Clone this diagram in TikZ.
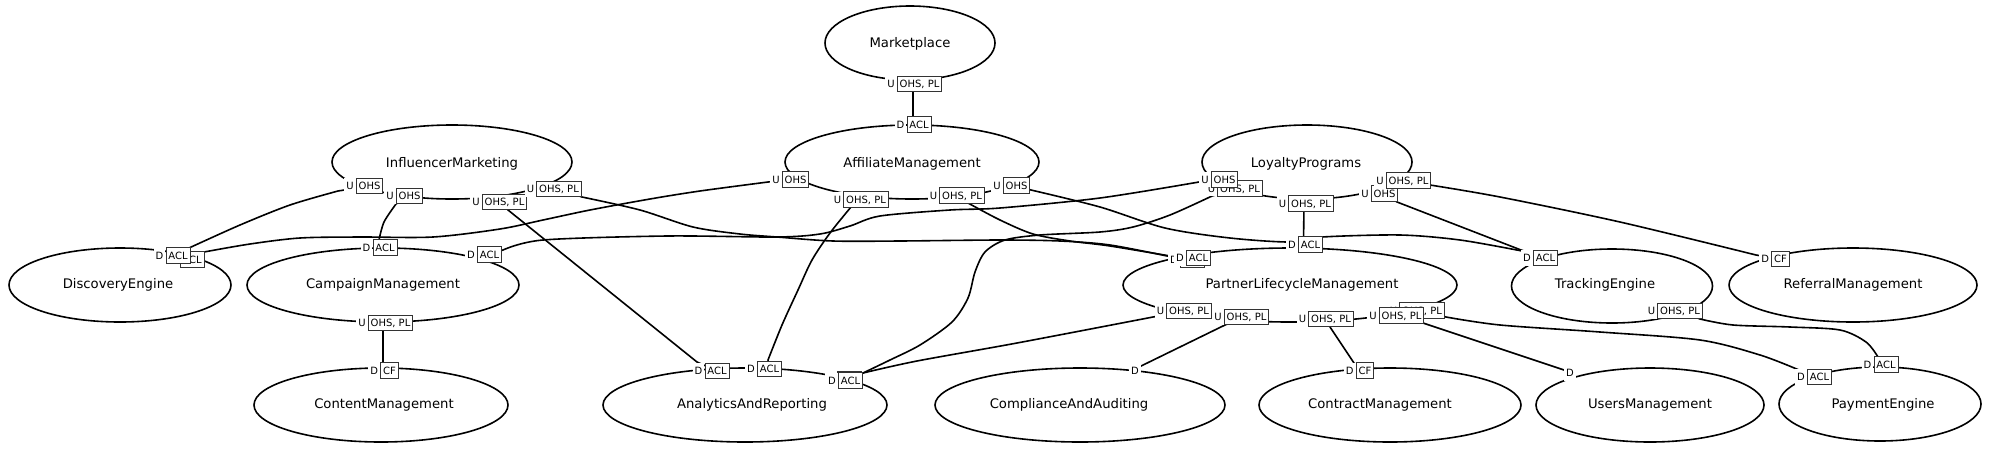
\documentclass[tikz,border=0pt]{standalone}
\usepackage{fontspec}
\setmainfont{DejaVu Sans}
\usetikzlibrary{shapes.geometric}
\pgfdeclarelayer{background}
\pgfsetlayers{background,main}
\newcommand{\ulab}[5]{%
  \node[lbox] (#1) at (#2,#3) {#5};
  \node[lltr, anchor=east] (#1L) at (#1.west) {#4};
}
\begin{document}
\begin{tikzpicture}[x=1pt,y=-1pt,
  ctx/.style={ellipse, draw, line width=1.6pt, inner sep=0pt, minimum height=74pt},
  ctxt/.style={anchor=base, inner sep=0pt, font=\fontsize{13.2}{15}\selectfont},
  lbox/.style={draw=black!80, line width=0.9pt, fill=white, inner xsep=2.4pt, inner ysep=0pt,
    minimum height=15.5pt, text height=7.3pt, text depth=0pt, font=\fontsize{10}{11}\selectfont},
  lltr/.style={fill=white, inner xsep=2pt, inner ysep=0pt, minimum height=15.5pt,
    text height=7.3pt, text depth=0pt, font=\fontsize{10}{11}\selectfont},
  conn/.style={line width=1.6pt, line join=round},
]
\useasboundingbox (0,0) rectangle (2000,448);

% ---------------- labels (upstream / downstream ends) ----------------
\ulab{mkU}{919.5}{84}{U}{OHS, PL}
\ulab{amDt}{919}{124.5}{D}{ACL}

\ulab{imUb}{409.5}{196}{U}{OHS}
\ulab{imUa}{369.5}{186}{U}{OHS}
\ulab{imUc}{504.5}{202}{U}{OHS, PL}
\ulab{imUd}{559}{189}{U}{OHS, PL}

\ulab{amUa}{795.5}{179.5}{U}{OHS}
\ulab{amUb}{866}{199.5}{U}{OHS, PL}
\ulab{amUc}{962}{195.5}{U}{OHS, PL}
\ulab{amUd}{1016.5}{185.5}{U}{OHS}

\ulab{lpUb}{1240}{188.5}{U}{OHS, PL}
\ulab{lpUa}{1224.5}{179.5}{U}{OHS}
\ulab{lpUc}{1311}{203.5}{U}{OHS, PL}
\ulab{lpUd}{1384.5}{193.5}{U}{OHS}
\ulab{lpUe}{1408.5}{180.5}{U}{OHS, PL}

\ulab{plmDb}{1192.5}{260}{D}{ACL}
\ulab{plmDa}{1198.5}{258}{D}{ACL}
\ulab{plmDt}{1310.5}{244.5}{D}{ACL}
\ulab{plmUa}{1189}{311}{U}{OHS, PL}
\ulab{plmUb}{1246.5}{317}{U}{OHS, PL}
\ulab{plmUc}{1331}{319}{U}{OHS, PL}
\ulab{plmUe}{1422}{310.5}{U}{OHS, PL}
\ulab{plmUd}{1401.5}{315.5}{U}{OHS, PL}

\ulab{cmDt}{385}{247.5}{D}{ACL}
\ulab{cmDr}{489.5}{254.5}{D}{ACL}
\ulab{cmU}{390.5}{323}{U}{OHS, PL}

\ulab{deDb}{192}{259.5}{D}{ACL}
\ulab{deDa}{178}{255.5}{D}{ACL}

\ulab{coD}{389.5}{370.5}{D}{CF}

\ulab{arDa}{717}{371}{D}{ACL}
\ulab{arDb}{769.5}{369}{D}{ACL}
\ulab{arDd}{849.5}{379.5}{D}{ACL}
\ulab{arDc}{850.5}{380.5}{D}{ACL}

\node[lltr] (caD) at (1135,371) {D};
\ulab{ctD}{1365}{370.5}{D}{CF}
\node[lltr] (umD) at (1570,373) {D};

\ulab{peDa}{1819.5}{377}{D}{ACL}
\ulab{peDb}{1886}{364.5}{D}{ACL}

\ulab{teDb}{1545.5}{258}{D}{ACL}
\ulab{teDa}{1545.5}{258}{D}{ACL}
\ulab{teU}{1680}{311}{U}{OHS, PL}
\ulab{rmD}{1780.5}{259}{D}{CF}

\begin{pgfonlayer}{background}
% ---------------- bounded contexts ----------------
\node[ctx, minimum width=170pt] (mkt) at (910,43) {};
\node[ctx, minimum width=240pt] (im)  at (452,162) {};
\node[ctx, minimum width=254pt] (am)  at (912,162) {};
\node[ctx, minimum width=210pt] (lp)  at (1307,162) {};
\node[ctx, minimum width=222pt] (de)  at (120,285) {};
\node[ctx, minimum width=272pt] (cm)  at (383,285) {};
\node[ctx, minimum width=334pt] (plm) at (1290,285) {};
\node[ctx, minimum width=201pt] (te)  at (1612,286) {};
\node[ctx, minimum width=248pt] (rm)  at (1853,285) {};
\node[ctx, minimum width=254pt] (co)  at (381,405) {};
\node[ctx, minimum width=284pt] (ar)  at (745,405) {};
\node[ctx, minimum width=290pt] (ca)  at (1080,405) {};
\node[ctx, minimum width=262pt] (ct)  at (1390,405) {};
\node[ctx, minimum width=228pt] (um)  at (1650,405) {};
\node[ctx, minimum width=202pt] (pe)  at (1880,404) {};

\node[ctxt] (mktT) at (910,47) {Marketplace};
\node[ctxt] (imT)  at (452,167) {InfluencerMarketing};
\node[ctxt] (amT)  at (912,167) {AffiliateManagement};
\node[ctxt] (lpT)  at (1306,167) {LoyaltyPrograms};
\node[ctxt] (deT)  at (118,288) {DiscoveryEngine};
\node[ctxt] (cmT)  at (383,288) {CampaignManagement};
\node[ctxt] (plmT) at (1302,288) {PartnerLifecycleManagement};
\node[ctxt] (teT)  at (1605,288) {TrackingEngine};
\node[ctxt] (rmT)  at (1853,288) {ReferralManagement};
\node[ctxt] (coT)  at (384,408) {ContentManagement};
\node[ctxt] (arT)  at (752,408) {AnalyticsAndReporting};
\node[ctxt] (caT)  at (1069,408) {ComplianceAndAuditing};
\node[ctxt] (ctT)  at (1380,408) {ContractManagement};
\node[ctxt] (umT)  at (1650,408) {UsersManagement};
\node[ctxt] (peT)  at (1883,408) {PaymentEngine};

% ---------------- relationships ----------------
\draw[conn] ([xshift=-6.5pt]mkU.center) -- ([xshift=-6pt]amDt.center);
\draw[conn] (imUa.center) -- plot[smooth] coordinates {(338,191) (290,205) (240,225) (189,248)} -- (deDa.center);
\draw[conn] (imUb.center) -- plot[smooth] coordinates {(396,204) (384,222) (379,240)} -- (cmDt.center);
\draw[conn] (imUc.center) -- (508,210) -- (697,362) -- (arDa.center);
\draw[conn] (imUd.center) -- plot[smooth] coordinates {(582,197) (640,210) (693,227) (740,234) (777,237) (833,241) (900,241) (1000,240) (1060,241) (1110,245) (1172,257)} -- (plmDb.center);
\draw[conn] (amUa.center) -- plot[smooth] coordinates {(768,182) (700,191) (650,199) (590,210) (543,220) (500,229) (433,237) (360,237) (300,238) (250,244) (204,252)} -- (deDb.center);
\draw[conn] (amUb.center) -- plot[smooth] coordinates {(851,207) (830,233) (812,260) (798,290) (782,325) (768,360)} -- (arDb.center);
\draw[conn] (amUc.center) -- plot[smooth] coordinates {(968,203) (1000,220) (1033,234) (1070,241) (1110,246) (1176,257)} -- (plmDa.center);
\draw[conn] (amUd.center) -- plot[smooth] coordinates {(1031,190) (1100,207) (1165,228) (1230,238) (1290,242) (1322,237) (1400,235) (1460,240) (1522,251)} -- (teDa.center);
\draw[conn] (lpUa.center) -- plot[smooth] coordinates {(1199,182) (1100,198) (1000,208) (950,210) (880,216) (850,226) (820,234) (777,237) (667,236) (543,240) (503,250)} -- (cmDr.center);
\draw[conn] (lpUb.center) -- plot[smooth] coordinates {(1212,196) (1170,215) (1133,227) (1100,232) (1040,235) (1005,240) (985,252) (975,272) (968,298) (952,322) (920,345) (890,360) (863,373)} -- (arDc.center);
\draw[conn] ([xshift=-7pt]lpUc.center) -- ([xshift=-7pt]plmDt.center);
\draw[conn] (lpUd.center) -- (1397,202) -- (1521,250) -- (teDb.center);
\draw[conn] (lpUe.center) -- plot[smooth] coordinates {(1430,185) (1500,197) (1620,222) (1756,255)} -- (rmD.center);
\draw[conn] ([xshift=-7.5pt]cmU.center) -- ([xshift=-6.5pt]coD.center);
\draw[conn] (plmUa.center) -- plot[smooth] coordinates {(1153,317) (1017,343) (917,361) (863,373)} -- (arDc.center);
\draw[conn] (plmUb.center) -- (1225,325) -- (1139,367) -- (caD.center);
\draw[conn] (plmUc.center) -- (1330,327) -- (1354,363) -- (ctD.center);
\draw[conn] (plmUd.center) -- (1423,323) -- (1564,370) -- (umD.center);
\draw[conn] (plmUe.center) -- plot[smooth] coordinates {(1446,317) (1500,325) (1600,332) (1700,340) (1760,355) (1799,370)} -- (peDa.center);
\draw[conn] (teU.center) -- plot[smooth] coordinates {(1700,319) (1733,325) (1790,327) (1840,330) (1866,342) (1878,357)} -- (peDb.center);
\end{pgfonlayer}
\end{tikzpicture}
\end{document}
